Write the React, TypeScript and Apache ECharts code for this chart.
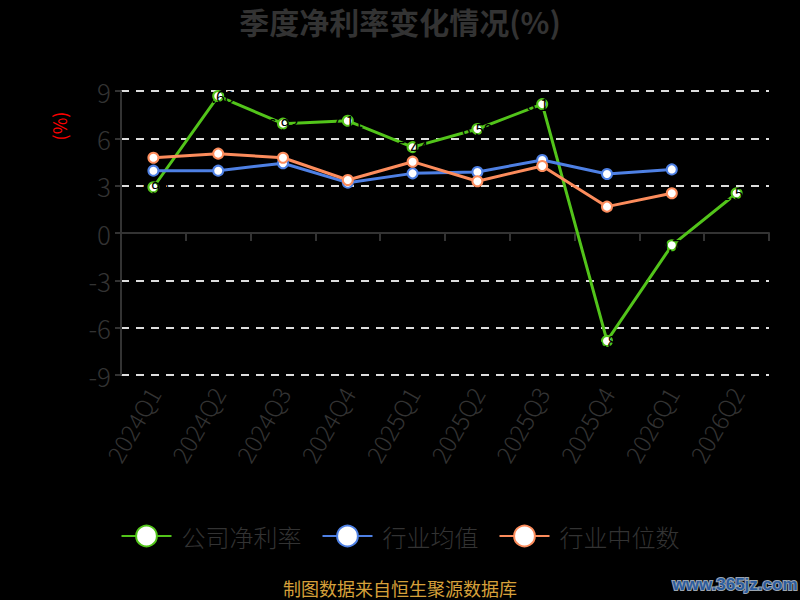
import React, { useEffect, useRef } from "react";
import * as echarts from "echarts";

const categories = ["2024Q1", "2024Q2", "2024Q3", "2024Q4", "2025Q1", "2025Q2", "2025Q3", "2025Q4", "2026Q1", "2026Q2"];
const companyMargin = [2.9, 8.68, 6.93, 7.11, 5.44, 6.59, 8.17, -6.84, -0.78, 2.52];
const industryMean = [3.95, 3.95, 4.42, 3.19, 3.78, 3.87, 4.63, 3.74, 4.03, null];
const industryMedian = [4.77, 5.03, 4.77, 3.36, 4.52, 3.28, 4.25, 1.67, 2.52, null];
const yTicks = { min: -9, max: 9, interval: 3 };

const GREEN = "#52c41a";
const BLUE = "#4e80e4";
const ORANGE = "#fc8c5c";
const FONT = "Noto Sans CJK SC";

export default function App() {
  const ref = useRef<HTMLDivElement>(null);
  useEffect(() => {
    document.body.style.margin = "0";
    document.body.style.background = "#000";
    const chart = echarts.init(ref.current!, null, { renderer: "svg" });
    const mkSeries = (name: string, data: any[], color: string, withLabel: boolean) => ({
      name,
      type: "line",
      data,
      symbol: "circle",
      symbolSize: 10,
      showAllSymbol: true,
      lineStyle: { color, width: 3 },
      itemStyle: { color: "#fff", borderColor: color, borderWidth: 2 },
      label: withLabel
        ? {
            show: true,
            position: "inside",
            color: "#000",
            fontSize: 16,
            fontFamily: FONT,
            formatter: (p: any) => Number(p.value).toFixed(2),
          }
        : { show: false },
      emphasis: { disabled: true },
    });
    chart.setOption({
      animation: false,
      backgroundColor: "#000",
      textStyle: { fontFamily: FONT },
      title: {
        text: "季度净利率变化情况(%)",
        left: "center",
        top: 1,
        textStyle: { fontSize: 30, fontWeight: "bold", color: "#333", fontFamily: FONT },
      },
      legend: {
        bottom: 47,
        left: "center",
        itemWidth: 50,
        itemHeight: 26,
        itemGap: 20,
        textStyle: { fontSize: 24, color: "#333", fontFamily: FONT, fontWeight: 300, padding: [0, 0, 0, 5] },
        data: ["公司净利率", "行业均值", "行业中位数"],
      },
      grid: { left: 121, right: 31, top: 91, bottom: 225, containLabel: false },
      xAxis: [
        {
          type: "category",
          data: categories,
          boundaryGap: true,
          axisLine: { onZero: true, lineStyle: { color: "#333", width: 2 } },
          axisTick: { show: true, length: 8, lineStyle: { color: "#333", width: 2 } },
          axisLabel: { show: false },
          splitLine: { show: false },
        },
        {
          type: "category",
          data: categories,
          position: "bottom",
          boundaryGap: true,
          axisLine: { show: false, onZero: false },
          axisTick: { show: false },
          axisLabel: { show: true, rotate: 60, fontSize: 24, color: "#333", fontFamily: FONT, fontWeight: 300, margin: 14 },
          splitLine: { show: false },
        },
      ],
      yAxis: {
        type: "value",
        min: yTicks.min,
        max: yTicks.max,
        interval: yTicks.interval,
        axisLine: { show: true, lineStyle: { color: "#333", width: 2 } },
        axisTick: { show: true, length: 6, lineStyle: { color: "#333", width: 2 } },
        axisLabel: { fontSize: 26, color: "#333", fontFamily: FONT, fontWeight: 300, margin: 10 },
        splitLine: { show: true, lineStyle: { color: "#ddd", width: 2, type: [8, 7] } },
      },
      graphic: [
        {
          type: "text",
          x: 59,
          y: 126,
          rotation: Math.PI / 2,
          style: { text: "(%)", fill: "#ff0000", fontSize: 18, fontFamily: FONT, align: "center", verticalAlign: "middle" },
        },
        {
          type: "text",
          x: 400,
          y: 588,
          style: { text: "制图数据来自恒生聚源数据库", fill: "#d6a03a", fontSize: 18, fontFamily: FONT, align: "center", verticalAlign: "middle" },
        },
        {
          type: "text",
          x: 735,
          y: 584,
          style: {
            text: "www.365jz.com",
            fill: "#2b5c9e",
            stroke: "#9aa4b0",
            lineWidth: 2,
            fontSize: 17,
            fontWeight: "bold",
            fontFamily: "Liberation Sans",
            align: "center",
            verticalAlign: "middle",
          },
        },
      ],
      series: [
        mkSeries("公司净利率", companyMargin, GREEN, true),
        mkSeries("行业均值", industryMean, BLUE, false),
        mkSeries("行业中位数", industryMedian, ORANGE, false),
      ],
    });
    return () => chart.dispose();
  }, []);
  return <div ref={ref} style={{ width: 800, height: 600, background: "#000" }} />;
}
